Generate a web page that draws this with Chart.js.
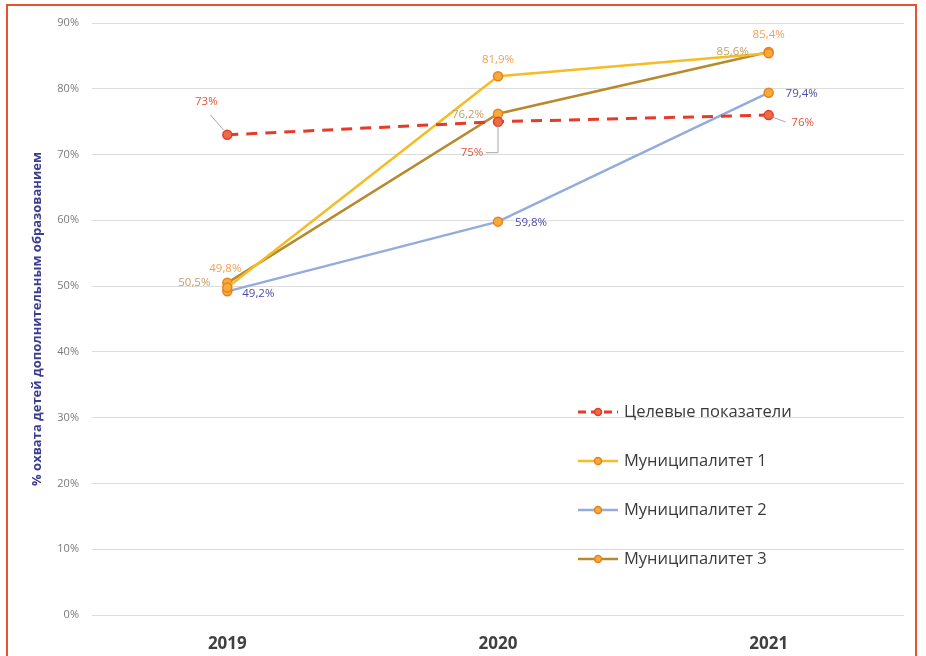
<!DOCTYPE html>
<html lang="ru">
<head>
<meta charset="utf-8">
<title>Охват детей дополнительным образованием</title>
<script src="https://cdn.jsdelivr.net/npm/chart.js@4.4.1/dist/chart.umd.min.js"></script>
<style>
  html, body { margin: 0; padding: 0; background: #fff; }
  #wrap { position: relative; width: 926px; height: 656px; overflow: hidden; }
  #frame {
    position: absolute; left: 6px; top: 4px; width: 911px; height: 700px;
    border: 2px solid #e8532f; box-sizing: border-box;
  }
  #chart { position: absolute; left: 0; top: 0; }
</style>
</head>
<body>
<div id="wrap">
  <div id="frame"></div>
  <canvas id="chart" width="926" height="656"></canvas>
</div>
<script>
// ── Данные ──
const years   = ['2019', '2020', '2021'];
const target  = [73, 75, 76];
const mun1    = [49.8, 81.9, 85.4];
const mun2    = [49.2, 59.8, 79.4];
const mun3    = [50.5, 76.2, 85.6];
const yTicks  = [0, 10, 20, 30, 40, 50, 60, 70, 80, 90];

const FONT = '"Open Sans", "Liberation Sans", sans-serif';

// смещения подписей относительно точек (dx, dy) и выноски
const LABELS = [
  { ds: 0, color: '#e5553b', fmt: v => v + '%',
    pos: [{ dx: -21, dy: -33, leader: [[-4, -5], [-17, -20]] },
          { dx: -26, dy: 31,  leader: [[0, 4], [0, 31], [-12, 31]] },
          { dx: 34,  dy: 8,   leader: [[4, 2], [17, 7]] }] },
  { ds: 1, color: '#f0a154', fmt: v => v.toFixed(1).replace('.', ',') + '%',
    pos: [{ dx: -2, dy: -19 }, { dx: 0, dy: -17 }, { dx: 0, dy: -19 }] },
  { ds: 2, color: '#4b4aa6', fmt: v => v.toFixed(1).replace('.', ',') + '%',
    pos: [{ dx: 31, dy: 2 }, { dx: 33, dy: 1 }, { dx: 33, dy: 1 }] },
  { ds: 3, color: '#c4a062', fmt: v => v.toFixed(1).replace('.', ',') + '%',
    pos: [{ dx: -33, dy: 0 }, { dx: -30, dy: 1 }, { dx: -36, dy: 0 }] },
];

// ── Подписи значений ──
const dataLabels = {
  id: 'dataLabels',
  afterDatasetsDraw(chart) {
    const ctx = chart.ctx;
    ctx.save();
    ctx.font = '11.5px ' + FONT;
    ctx.textAlign = 'center';
    ctx.textBaseline = 'middle';
    LABELS.forEach(cfg => {
      const meta = chart.getDatasetMeta(cfg.ds);
      const vals = chart.data.datasets[cfg.ds].data;
      meta.data.forEach((pt, i) => {
        const p = cfg.pos[i];
        if (p.leader) {
          ctx.strokeStyle = '#a6a6a6';
          ctx.lineWidth = 1;
          ctx.beginPath();
          p.leader.forEach(([lx, ly], k) => {
            if (k === 0) ctx.moveTo(pt.x + lx, pt.y + ly);
            else ctx.lineTo(pt.x + lx, pt.y + ly);
          });
          ctx.stroke();
        }
        ctx.fillStyle = cfg.color;
        ctx.fillText(cfg.fmt(vals[i]), pt.x + p.dx, pt.y + p.dy);
      });
    });
    ctx.restore();
  }
};

// ── Легенда внутри области графика ──
const innerLegend = {
  id: 'innerLegend',
  afterDraw(chart) {
    const ctx = chart.ctx;
    const x0 = 578, y0 = 412, step = 49;
    ctx.save();
    ctx.font = '16.5px ' + FONT;
    ctx.textBaseline = 'middle';
    ctx.textAlign = 'left';
    chart.data.datasets.forEach((ds, i) => {
      const y = y0 + i * step;
      ctx.strokeStyle = ds.borderColor;
      ctx.lineWidth = ds.borderWidth;
      ctx.setLineDash(ds.borderDash ? [8, 5] : []);
      ctx.beginPath();
      ctx.moveTo(x0, y);
      ctx.lineTo(x0 + 40, y);
      ctx.stroke();
      ctx.setLineDash([]);
      ctx.fillStyle = ds.pointBackgroundColor;
      ctx.strokeStyle = ds.pointBorderColor;
      ctx.lineWidth = 1.5;
      ctx.beginPath();
      ctx.arc(x0 + 20, y, 3.5, 0, Math.PI * 2);
      ctx.fill();
      ctx.stroke();
      ctx.fillStyle = '#3a3a3a';
      ctx.fillText(ds.label, x0 + 46, y);
    });
    ctx.restore();
  }
};

const pointStyle = (bg, border) => ({
  pointRadius: 4.5, pointBackgroundColor: bg, pointBorderColor: border,
  pointBorderWidth: 1.5, pointHoverRadius: 4.5,
});

new Chart(document.getElementById('chart'), {
  type: 'line',
  data: {
    labels: years,
    datasets: [
      { label: 'Целевые показатели', data: target, borderColor: '#e63b2a',
        borderWidth: 3, borderDash: [11, 8], ...pointStyle('#ee6a48', '#e23f2a') },
      { label: 'Муниципалитет 1', data: mun1, borderColor: '#f6bb25',
        borderWidth: 2.5, ...pointStyle('#f7a93a', '#e8821e') },
      { label: 'Муниципалитет 2', data: mun2, borderColor: '#93acdc',
        borderWidth: 2.5, ...pointStyle('#f7a93a', '#e8821e') },
      { label: 'Муниципалитет 3', data: mun3, borderColor: '#b98a2d',
        borderWidth: 2.5, ...pointStyle('#f7a93a', '#e8821e') },
    ],
  },
  options: {
    responsive: false,
    animation: false,
    layout: { padding: { top: 23, right: 22, left: 0, bottom: 0 } },
    plugins: { legend: { display: false }, tooltip: { enabled: false } },
    scales: {
      x: {
        offset: true,
        grid: { display: false },
        border: { display: false },
        ticks: { color: '#404040', font: { family: FONT, size: 17, weight: 'bold' }, padding: 11 },
        afterFit: s => { s.height = 41; },
      },
      y: {
        min: 0, max: 90,
        afterBuildTicks: s => { s.ticks = yTicks.map(v => ({ value: v })); },
        grid: { color: '#dcdcdc', lineWidth: 1, drawTicks: false },
        border: { display: false },
        ticks: { color: '#7a7a7a', font: { family: FONT, size: 11 }, padding: 13,
                 callback: v => v + '%' },
        title: {
          display: true,
          text: '% охвата детей дополнительным образованием',
          color: '#3d3d8f',
          font: { family: FONT, size: 13, weight: 'bold' },
          padding: { top: 29, bottom: 0 },
        },
        afterFit: s => { s.width = 92; },
      },
    },
  },
  plugins: [dataLabels, innerLegend],
});
</script>
</body>
</html>
